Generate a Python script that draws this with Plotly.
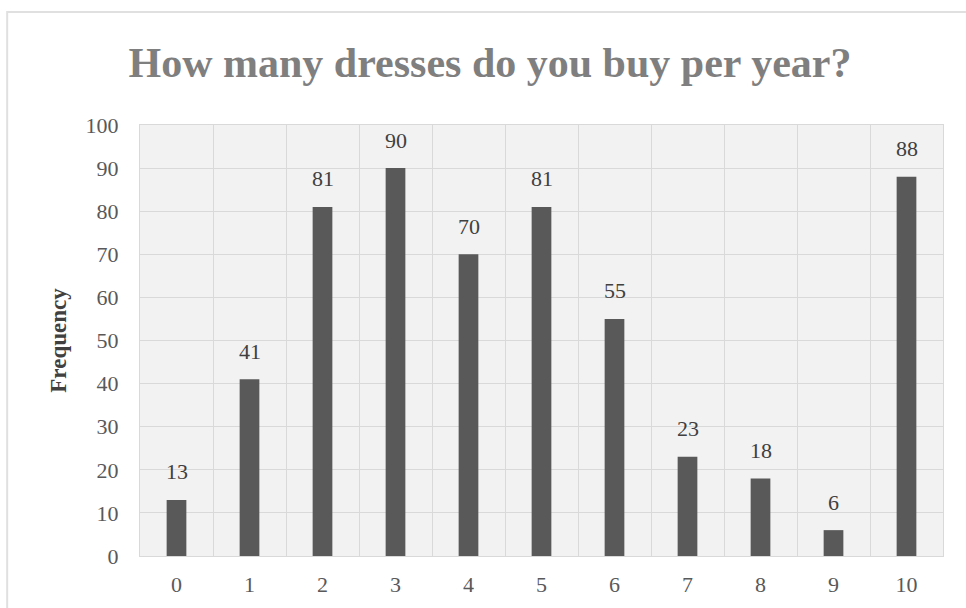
import plotly.graph_objects as go

# Survey responses: number of dresses bought per year
categories = ["0", "1", "2", "3", "4", "5", "6", "7", "8", "9", "10"]
frequency = [13, 41, 81, 90, 70, 81, 55, 23, 18, 6, 88]
y_ticks = list(range(0, 101, 10))

SERIF = "Liberation Serif, Times New Roman, serif"
BAR_COLOR = "#595959"
GRID_COLOR = "#d9d9d9"

fig = go.Figure()
fig.add_trace(go.Bar(
    x=categories,
    y=frequency,
    width=0.27,
    marker=dict(color=BAR_COLOR, line=dict(width=0)),
    hoverinfo="x+y",
))

# value labels above each bar
for c, v in zip(categories, frequency):
    fig.add_annotation(
        x=c, y=v, text=str(v), showarrow=False,
        yshift=28, font=dict(family=SERIF, size=22, color="#404040"),
    )

# outer chart frame
fig.add_shape(
    type="rect", xref="paper", yref="paper",
    x0=-0.1654, x1=1.2, y0=-0.3, y1=1.262,
    line=dict(color="#e0e0e0", width=2), fillcolor="rgba(0,0,0,0)",
    layer="below",
)

fig.update_layout(
    width=966, height=608,
    margin=dict(l=140, r=23, t=125, b=52),
    paper_bgcolor="white",
    plot_bgcolor="#f2f2f2",
    showlegend=False,
    title=dict(
        text="<b>How many dresses do you buy per year?</b>",
        x=490 / 966, xref="container", xanchor="center",
        y=1 - 62 / 608, yref="container", yanchor="middle",
        font=dict(family=SERIF, size=42, color="#7f7f7f"),
    ),
    xaxis=dict(
        type="category",
        tickson="boundaries",
        automargin=False,
        showgrid=True, gridcolor=GRID_COLOR, gridwidth=1,
        showline=True, linecolor=GRID_COLOR, mirror=True,
        ticks="", ticklabelstandoff=9,
        tickfont=dict(family=SERIF, size=22, color="#595959"),
    ),
    yaxis=dict(
        range=[0, 100],
        tickvals=y_ticks,
        automargin=False,
        showgrid=True, gridcolor=GRID_COLOR, gridwidth=1,
        showline=True, linecolor=GRID_COLOR, mirror=True,
        zeroline=False,
        ticks="outside", ticklen=16, tickcolor="rgba(0,0,0,0)",
        tickfont=dict(family=SERIF, size=22, color="#595959"),
        title=dict(
            text="<b>Frequency</b>", standoff=12,
            font=dict(family=SERIF, size=23, color="#404040"),
        ),
    ),
)

fig.write_html("out.html")
